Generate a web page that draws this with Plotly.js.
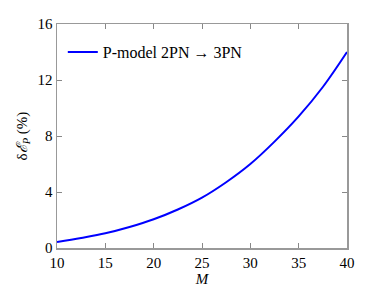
<!DOCTYPE html>
<html>
<head>
<meta charset="utf-8">
<script src="https://cdn.plot.ly/plotly-3.0.1.min.js"></script>
<style>
  html, body { margin: 0; padding: 0; background: #fff; }
  #chart { width: 374px; height: 289px; }
</style>
</head>
<body>
<div id="chart"></div>
<script>
// M values and relative energy difference (%)
const massValues = [10, 12.5, 15, 17.5, 20, 22.5, 25, 27.5, 30, 32.5, 35, 37.5, 40];
const deltaE = [0.43, 0.72, 1.05, 1.5, 2.05, 2.75, 3.6, 4.7, 6.0, 7.6, 9.4, 11.5, 14.0];
const xTicks = [10, 15, 20, 25, 30, 35, 40];
const yTicks = [0, 4, 8, 12, 16];
const seriesName = 'P-model 2PN \u2192 3PN';

const serif = { family: 'Liberation Serif', size: 15, color: '#000' };

const trace = {
  x: massValues,
  y: deltaE,
  mode: 'lines',
  type: 'scatter',
  name: seriesName,
  line: { color: '#0000ff', width: 2, shape: 'spline', smoothing: 1 }
};

const axisBase = {
  showline: true,
  linecolor: '#999',
  linewidth: 1.5,
  mirror: 'allticks',
  ticks: 'inside',
  ticklen: 5,
  tickcolor: '#888',
  showgrid: false,
  zeroline: false,
  tickfont: serif
};

const layout = {
  width: 374,
  height: 289,
  margin: { l: 57, r: 27, t: 24, b: 41 },
  paper_bgcolor: '#fff',
  plot_bgcolor: '#fff',
  font: serif,
  showlegend: true,
  legend: {
    x: 0.02, y: 0.95, xanchor: 'left', yanchor: 'top',
    itemwidth: 30,
    bgcolor: 'rgba(0,0,0,0)', font: Object.assign({}, serif, { size: 16 })
  },
  xaxis: Object.assign({}, axisBase, {
    range: [10, 40],
    tickvals: xTicks,
    title: { text: '<i>M</i>', font: serif, standoff: 0 }
  }),
  yaxis: Object.assign({}, axisBase, {
    range: [0, 16],
    tickvals: yTicks,
    title: { text: '\u03b4<i>\u2130</i><sub><i>P</i></sub> (%)', font: serif, standoff: 6 }
  })
};

Plotly.newPlot('chart', [trace], layout, { displayModeBar: false, staticPlot: true });
</script>
</body>
</html>
